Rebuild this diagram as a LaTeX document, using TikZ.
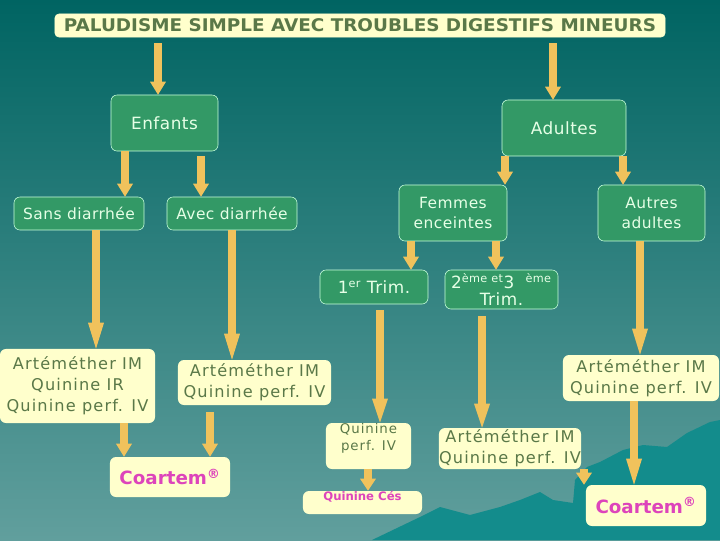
\documentclass[tikz,border=0pt]{standalone}
\usepackage{fontspec}
\setmainfont{DejaVu Sans}
\newfontfamily\greenfont{DejaVu Sans}[LetterSpace=3]
\newfontfamily\yellowfont{DejaVu Sans}[LetterSpace=7]
\usetikzlibrary{arrows.meta}

\definecolor{bgtop}{HTML}{006462}
\definecolor{bgbottom}{HTML}{619F9D}
\definecolor{mountain}{HTML}{138C8C}
\definecolor{boxgreen}{HTML}{339966}
\definecolor{greenline}{HTML}{C8FFDC}
\definecolor{greentext}{HTML}{E6FFE6}
\definecolor{paleyellow}{HTML}{FFFFCC}
\definecolor{olivetext}{HTML}{5A7848}
\definecolor{drugpink}{HTML}{DD44BB}
\definecolor{arrowgold}{HTML}{F0C25C}

\tikzset{
  greenbox/.style={draw=greenline, fill=boxgreen, text=greentext, rounded corners=0.15cm,
    align=center, inner sep=0pt, font=\greenfont\fontsize{11}{14}\selectfont},
  yellowbox/.style={fill=paleyellow, text=olivetext, rounded corners=0.15cm,
    align=center, inner sep=0pt, font=\yellowfont\fontsize{11.5}{15}\selectfont},
  drugbox/.style={fill=paleyellow, text=drugpink, rounded corners=0.15cm,
    inner sep=0pt, font=\bfseries\fontsize{13}{15}\selectfont},
  goldarrow/.style={draw=arrowgold, line width=0.2cm,
    -{Triangle[width=0.4cm,length=#1,line width=0pt]}},
  goldarrow/.default=0.325cm
}

\begin{document}
\begin{tikzpicture}[x=0.025cm, y=-0.025cm]
  \useasboundingbox (0,0) rectangle (720,540);
  % Background
  \shade[top color=bgtop, bottom color=bgbottom] (0,0) rectangle (720,540);
  \fill[mountain] (372,540) -- (420,517) -- (440,507) -- (470,515) -- (500,507)
    -- (520,500) -- (540,492) -- (553,500) -- (573,503) -- (575,480) -- (587,467)
    -- (600,462) -- (623,450) -- (643,445) -- (667,447) -- (687,433) -- (710,422)
    -- (720,420) -- (720,540) -- cycle;

  % Title
  \node[fill=paleyellow, draw=paleyellow, rounded corners=0.1cm, inner sep=0pt,
    minimum width=15.25cm, minimum height=0.575cm, text=olivetext,
    font=\bfseries\fontsize{12.4}{14}\selectfont] (title) at (360,25.5)
    {\resizebox{14.8cm}{\height}{PALUDISME SIMPLE AVEC TROUBLES DIGESTIFS MINEURS}};

  % Patients
  \node[greenbox, minimum width=2.675cm, minimum height=1.4cm,
    font=\greenfont\fontsize{12}{14}\selectfont] (enfants) at (164.5,123) {Enfants};
  \node[greenbox, minimum width=3.1cm, minimum height=1.4cm,
    font=\greenfont\fontsize{12}{14}\selectfont] (adultes) at (564,128) {Adultes};
  \node[greenbox, minimum width=3.25cm, minimum height=0.825cm] (sansd) at (79,213.5) {Sans diarrhée};
  \node[greenbox, minimum width=3.25cm, minimum height=0.825cm] (avecd) at (232,213.5) {Avec diarrhée};
  \node[greenbox, minimum width=2.7cm, minimum height=1.4cm] (femmes) at (453,213) {Femmes\\enceintes};
  \node[greenbox, minimum width=2.675cm, minimum height=1.4cm] (autres) at (651.5,213) {Autres\\adultes};
  \node[greenbox, minimum width=2.7cm, minimum height=0.85cm,
    font=\greenfont\fontsize{12}{14}\selectfont] (trimA) at (374,287) {1\textsuperscript{er} Trim.};
  \node[greenbox, minimum width=2.825cm, minimum height=0.975cm,
    font=\greenfont\fontsize{12}{12.5}\selectfont] (trimB) at (501.5,289.5)
    {2\textsuperscript{ème et}3\textsuperscript{\quad ème}\\Trim.};

  % Treatments
  \node[yellowbox, minimum width=3.875cm, minimum height=1.85cm] (artA) at (77.5,386)
    {Artéméther IM\\Quinine IR\\Quinine perf. IV};
  \node[yellowbox, minimum width=3.825cm, minimum height=1.125cm] (artB) at (254.5,382.5)
    {Artéméther IM\\Quinine perf. IV};
  \node[yellowbox, minimum width=3.9cm, minimum height=1.15cm] (artC) at (641,378)
    {Artéméther IM\\Quinine perf. IV};
  \node[yellowbox, minimum width=2.125cm, minimum height=1.15cm,
    font=\yellowfont\fontsize{9.5}{12}\selectfont] (quinpv) at (368.5,446)
    {\parbox[c][1.15cm][t]{2.1cm}{\centering\vspace{0.02cm}Quinine\\perf. IV}};
  \node[yellowbox, minimum width=3.55cm, minimum height=1.025cm] (artD) at (510,448.5)
    {Artéméther IM\\Quinine perf. IV};
  \node[drugbox, minimum width=3cm, minimum height=1cm] (coartA) at (170,477)
    {Coartem\textsuperscript{®}};
  \node[drugbox, minimum width=2.975cm, minimum height=0.575cm,
    font=\bfseries\fontsize{8.3}{10}\selectfont, text height=6.5pt, text depth=9.5pt]
    (quinces) at (362.5,502.5) {Quinine Cés};
  \node[drugbox, minimum width=3cm, minimum height=1.025cm] (coartB) at (646,505.5)
    {Coartem\textsuperscript{®}};

  % Arrows
  \draw[goldarrow, shorten <=0.15cm] (title.south -| 158,0) -- (enfants.north -| 158,0);
  \draw[goldarrow, shorten <=0.15cm] (title.south -| 553,0) -- (adultes.north -| 553,0);
  \draw[goldarrow] (enfants.south -| 125,0) -- (sansd.north -| 125,0);
  \draw[goldarrow, shorten <=0.125cm] (enfants.south -| 201,0) -- (avecd.north -| 201,0);
  \draw[goldarrow] (adultes.south -| 505,0) -- (femmes.north -| 505,0);
  \draw[goldarrow] (adultes.south -| 623,0) -- (autres.north -| 623,0);
  \draw[goldarrow] (femmes.south -| 411,0) -- (trimA.north -| 411,0);
  \draw[goldarrow] (femmes.south -| 496,0) -- (trimB.north -| 496,0);
  \draw[goldarrow=0.65cm] (sansd.south -| 96,0) -- (artA.north -| 96,0);
  \draw[goldarrow=0.65cm] (avecd.south -| 232,0) -- (artB.north -| 232,0);
  \draw[goldarrow=0.65cm] (autres.south -| 640,0) -- (artC.north -| 640,0);
  \draw[goldarrow=0.6cm, shorten <=0.15cm] (trimA.south -| 380,0) -- (quinpv.north -| 380,0);
  \draw[goldarrow=0.6cm, shorten <=0.175cm] (trimB.south -| 482,0) -- (artD.north -| 482,0);
  \draw[goldarrow] (artA.south -| 124,0) -- (coartA.north -| 124,0);
  \draw[goldarrow, shorten <=0.175cm] (artB.south -| 210,0) -- (coartA.north -| 210,0);
  \draw[goldarrow=0.3cm] (quinpv.south -| 368,0) -- (quinces.north -| 368,0);
  \draw[goldarrow=0.65cm] (artC.south -| 634,0) -- (coartB.north -| 634,0);
  \draw[goldarrow=0.3cm] (artD.south -| 584,0) -- (coartB.north -| 584,0);
\end{tikzpicture}
\end{document}
